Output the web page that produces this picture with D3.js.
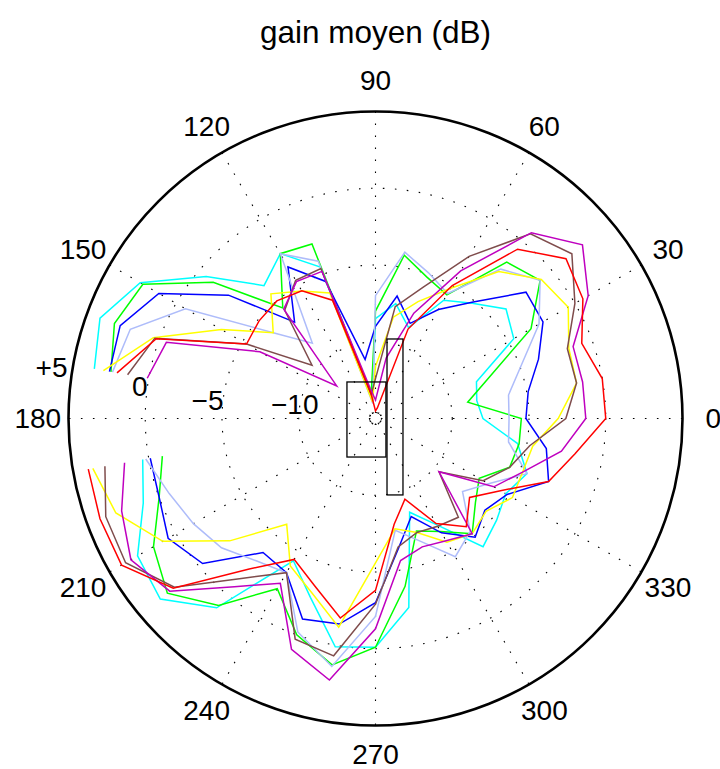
<!DOCTYPE html>
<html><head><meta charset="utf-8">
<script src="https://cdn.jsdelivr.net/npm/d3@7/dist/d3.min.js"></script>
<style>
body{margin:0;background:#fff}
svg{display:block}
text{font-family:"Liberation Sans",Arial,Helvetica,sans-serif;fill:#000}
</style>
</head><body>
<svg id="chart" width="720" height="769"></svg>
<script>
// ---- data (angles in degrees, gain in dB); 180 deg is missing in the measurement ----
const anglesDeg = [0,10,20,30,40,50,60,70,80,90,100,110,120,130,140,150,160,170,
                   190,200,210,220,230,240,250,260,270,280,290,300,310,320,330,340,350];

const cyanSeries      = [-8.0,-8.3,-8.0,-4.6,-3.9,-5.2,-6.1,-8.7,-7.4,-8.5,-13.8,-4.5,-2.6,-3.7,-0.6,2.7,4.1,3.6,
                          0.4,1.1,2.9,3.3,1.1,-4.3,-2.6,0.1,-0.1,-2.5,-8.5,-7.0,-4.1,-4.7,-5.2,-4.5,-5.6];
const greenSeries     = [-5.5,-8.9,-7.1,-3.3,-1.0,-1.7,-5.7,-5.2,-4.2,-8.0,-13.4,-2.9,-2.6,-5.6,-1.2,2.5,3.1,2.5,
                          -0.9,0.0,1.7,2.7,0.9,-2.2,0.0,1.3,-0.1,-3.9,-7.2,-6.5,-5.2,-6.5,-7.2,-5.7,-5.5];
const blueSeries      = [-5.2,-4.9,-3.7,-2.4,-2.2,-5.1,-6.8,-8.4,-6.9,-9.0,-11.1,-5.5,-3.6,-6.8,-2.5,1.3,2.7,2.6,
                          -0.1,0.0,0.6,-0.3,-3.6,-3.4,-1.1,-1.4,-3.0,-6.4,-8.2,-6.4,-4.9,-5.7,-5.1,-3.0,-3.7];
const lightBlueSeries = [-6.3,-6.2,-4.9,-2.7,-1.0,-2.3,-5.6,-4.9,-4.0,-7.0,-14.0,-4.1,-2.6,-8.6,-6.3,-0.7,2.0,2.4,
                          0.2,-0.7,-1.3,-1.9,-2.9,-3.4,-0.2,1.4,-2.1,-7.6,-6.5,-4.6,-5.4,-7.6,-6.5,-4.5,-6.2];
const yellowSeries    = [-3.1,-1.7,-1.6,-0.5,-0.9,-2.5,-5.2,-6.9,-8.3,-11.6,-13.9,-6.3,-5.4,-4.4,-6.3,-3.4,0.4,3.0,
                          3.7,3.0,1.0,-2.6,-6.0,-3.9,-2.9,-1.2,-5.6,-7.7,-7.1,-5.7,-5.2,-5.6,-4.7,-4.8,-4.6];
const brownSeries     = [-2.6,-1.7,-1.7,0.0,1.7,0.7,-2.8,-5.9,-7.6,-12.4,-13.4,-4.6,-4.6,-5.8,-9.6,-5.3,0.3,1.4,
                          2.9,3.7,3.8,2.1,-1.4,-3.4,0.3,0.7,-2.9,-6.5,-7.1,-6.9,-6.6,-9.6,-6.9,-5.7,-4.8];
const magentaSeries   = [-1.3,-1.3,-1.3,1.0,2.6,0.8,-3.9,-7.7,-11.0,-13.8,-13.0,-4.8,-4.7,-5.7,-11.7,-6.3,-0.5,0.1,
                          1.6,2.6,3.4,2.5,-0.7,-2.6,1.0,2.3,-1.3,-5.6,-6.1,-5.8,-5.2,-9.6,-6.1,-4.8,-2.7];
const redSeries       = [0.0,0.0,-0.7,0.6,1.2,-0.6,-5.0,-8.8,-14.3,-14.5,-13.4,-6.8,-5.4,-5.0,-5.1,-5.3,0.2,2.1,
                          4.0,4.1,4.1,2.2,-2.2,-4.4,-3.4,-1.8,-3.8,-8.0,-9.4,-7.1,-5.8,-7.0,-5.6,-3.0,-1.8];

const seriesList   = [cyanSeries, greenSeries, blueSeries, lightBlueSeries, yellowSeries, brownSeries, magentaSeries, redSeries];
const seriesColors = ["#00ffff", "#00ff00", "#0000ff", "#aebcfa", "#ffff00", "#7f4c4c", "#bf00bf", "#ff0000"];

const angleTicks  = [0,30,60,90,120,150,180,210,240,270,300,330];
const rhoTicks    = [-10,-5,0,5];
const rhoLabels   = ["\u221210","\u22125","0","+5"];
const rhoDomain   = [-15,5];
const titleText   = "gain moyen (dB)";

// annotation rectangles (in radial units, centre = 0) and small centre circle
const rectsX = [[-1.86,0.68],[0.75,1.79]];
const rectsY = [[2.38,-2.51],[5.18,-4.98]];
const centreCircleR = 0.39;

// ---- layout ----
const W = 720, H = 769, cx = 375.5, cy = 418.5, R = 307;
const svg = d3.select("#chart");
const r = d3.scaleLinear().domain(rhoDomain).range([0, R]);
const unit = d3.scaleLinear().domain([0, 1]).range([0, R / (rhoDomain[1] - rhoDomain[0])]);
const rad = d => d * Math.PI / 180;
const px = (a, rr) => cx + rr * Math.cos(rad(a));
const py = (a, rr) => cy - rr * Math.sin(rad(a));

const g = svg.append("g");
const dotted = {stroke: "#000", "stroke-width": 1.1, "stroke-dasharray": "1.6,10.4", fill: "none"};
function applyAttrs(sel, o){ for (const k in o) sel.attr(k, o[k]); return sel; }

// rings
rhoTicks.filter(t => t < rhoDomain[1]).forEach(t => {
  applyAttrs(g.append("circle").attr("cx", cx).attr("cy", cy).attr("r", r(t)), dotted);
});
// spokes
[0,30,60,90,120,150].forEach(a => {
  applyAttrs(g.append("line")
    .attr("x1", px(a, R)).attr("y1", py(a, R))
    .attr("x2", px(a + 180, R)).attr("y2", py(a + 180, R)), dotted);
});

// data lines: start after the gap (190) and wrap to 170
const startIdx = anglesDeg.indexOf(190);
const order = d3.range(anglesDeg.length).map(i => (i + startIdx) % anglesDeg.length);
seriesList.forEach((s, k) => {
  const line = d3.line()
    .x(i => px(anglesDeg[i], r(s[i])))
    .y(i => py(anglesDeg[i], r(s[i])));
  g.append("path").attr("d", line(order))
    .attr("fill", "none").attr("stroke", seriesColors[k])
    .attr("stroke-width", 1.5).attr("stroke-linejoin", "miter");
});

// outer circle
g.append("circle").attr("cx", cx).attr("cy", cy).attr("r", r(rhoDomain[1]))
  .attr("fill", "none").attr("stroke", "#000").attr("stroke-width", 2.6);

// annotation rectangles and centre circle
rectsX.forEach((xs, i) => {
  const ys = rectsY[i];
  g.append("rect")
    .attr("x", cx + unit(xs[0])).attr("y", cy - unit(ys[0]))
    .attr("width", unit(xs[1] - xs[0])).attr("height", unit(ys[0] - ys[1]))
    .attr("fill", "none").attr("stroke", "#000").attr("stroke-width", 1.3);
});
g.append("circle").attr("cx", cx).attr("cy", cy).attr("r", unit(centreCircleR))
  .attr("fill", "none").attr("stroke", "#000").attr("stroke-width", 1)
  .attr("stroke-dasharray", "2,2");

// angle labels
const fs = 28;
angleTicks.forEach(a => {
  g.append("text")
    .attr("x", px(a, R * 1.1)).attr("y", py(a, R * 1.1) - (a === 270 ? 2 : 0))
    .attr("text-anchor", "middle").attr("dominant-baseline", "central")
    .attr("font-size", fs).text(a);
});
// rho labels
const labelNudge = {"-10": [19, -3], "-5": [0, 3], "0": [0, 0], "5": [-4, -8]};
rhoTicks.forEach((t, i) => {
  const a = 172, rr = r(t);
  const nd = labelNudge[String(t)];
  g.append("text")
    .attr("x", px(a, rr) + nd[0]).attr("y", py(a, rr) + nd[1])
    .attr("text-anchor", "end").attr("dominant-baseline", "central")
    .attr("font-size", fs).text(rhoLabels[i]);
});
// title
svg.append("text").attr("x", cx).attr("y", 43).attr("text-anchor", "middle")
  .attr("font-size", 31.5).text(titleText);
</script>
</body></html>
